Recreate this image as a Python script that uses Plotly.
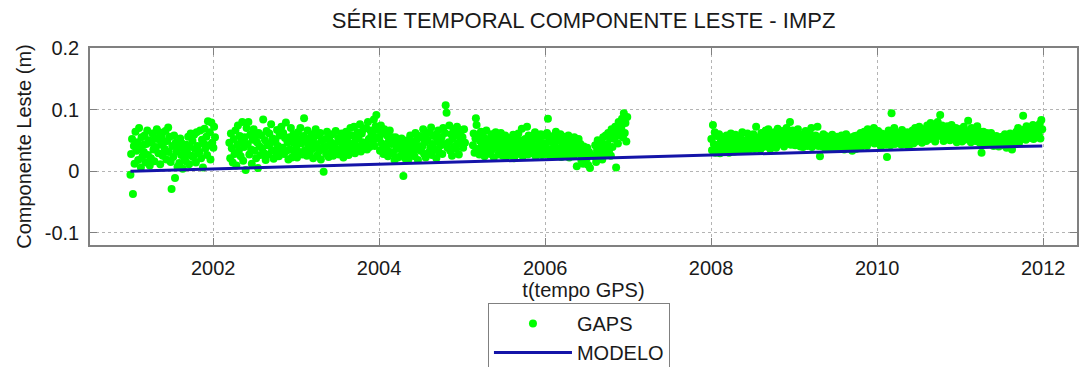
import plotly.graph_objects as go

# Componente leste da estação IMPZ, em milímetros: oito épocas por mês (None = sem solução)
leste_2001 = [
    [-6, 28, 52, -37, 41, 12, 64, 33], [47, 18, 70, 36, 6, 55, 24, 43],
    [31, 58, 14, 44, 66, 26, 50, 9], [21, 46, 61, 35, 16, 53, 39, 68],
    [52, 29, 63, 11, 43, 57, 25, 47], [36, 65, 19, 49, 71, 31, 56, 15],
    [-29, 41, 23, 58, -11, 46, 32, 7], [39, 13, 53, 26, 45, 4, 36, 21],
    [16, 43, 29, 56, 11, 39, 61, 25], [49, 23, 59, 36, 14, 63, 41, 29],
    [31, 66, 21, 51, 6, 45, 69, 37], [56, 26, 81, 42, 63, 19, 79, 46],
]
leste_2002 = [
    [38, 72, 55, None, None, None, None, None], [None] * 8,
    [None, None, None, 46, 21, 61, 37, 14], [52, 28, 66, 9, 43, 74, 33, 57],
    [24, 48, 80, 17, 39, 55, 2, 70], [44, 80, 27, 59, 35, 12, 51, 68],
    [33, 56, 21, 47, 5, 62, 40, 26], [58, 37, 84, 29, 50, 18, 65, 42],
    [27, 61, 45, 76, 34, 53, 20, 48], [49, 30, 67, 41, 24, 58, 36, 72],
    [38, 62, 28, 54, 79, 33, 46, 19], [55, 35, 70, 22, 47, 60, 31, 52],
]
leste_2003 = [
    [40, 22, 63, 51, 31, 70, 45, 27], [57, 86, 34, 48, 25, 66, 39, 53],
    [29, 46, 60, 36, 21, 55, 42, 68], [44, 26, 58, 33, 62, 19, 49, 38],
    [-1, 35, 52, 28, 64, 41, 23, 56], [47, 31, 60, 25, 44, 37, 65, 29],
    [36, 54, 27, 48, 33, 61, 41, 22], [50, 30, 64, 39, 56, 26, 45, 70],
    [34, 58, 43, 72, 29, 51, 38, 63], [55, 40, 76, 32, 61, 47, 68, 36],
    [44, 70, 35, 80, 52, 39, 66, 58], [62, 48, 84, 41, 73, 91, 55, 67],
]
leste_2004 = [
    [52, 33, 74, 45, 61, 28, 68, 40], [37, 58, 24, 49, 66, 31, 44, 55],
    [29, 47, 18, 55, 36, 42, 22, 51], [40, 25, 53, 34, -8, 46, 21, 38],
    [31, 50, 19, 43, 58, 27, 36, 48], [45, 24, 62, 35, 52, 18, 41, 57],
    [33, 55, 40, 68, 28, 47, 22, 60], [50, 30, 63, 38, 71, 26, 44, 57],
    [36, 59, 21, 48, 66, 31, 53, 42], [55, 28, 70, 44, 62, 107, 95, 38],
    [47, 74, 33, 60, 25, 52, 68, 40], [58, 36, 72, 45, 27, 63, 50, 66],
]
leste_2005 = [
    [55, 38, 68, 46, None, None, None, None], [None, None, None, None, 42, 61, 30, 53],
    [86, 75, 36, 58, 27, 49, 64, 41], [33, 55, 24, 47, 66, 38, 29, 52],
    [45, 28, 60, 35, 51, 22, 43, 63], [38, 56, 27, 48, 33, 62, 41, 25],
    [50, 31, 58, 23, 44, 36, 54, 29], [26, 47, 35, 59, 21, 42, 53, 31],
    [40, 61, 28, 50, 36, 69, 24, 45], [33, 52, 44, 72, 27, 58, 38, 49],
    [46, 29, 55, 35, 63, 24, 41, 52], [30, 49, 38, 60, 26, 45, 57, 35],
]
leste_2006 = [
    [45, 28, 62, 85, 36, 53, 24, 48], [33, 57, 41, 26, 64, 38, 50, 29],
    [52, 35, 60, 23, 44, 31, 56, 40], [27, 48, 36, 58, 22, 43, 33, 51],
    [39, 24, 55, 30, 46, 8, 37, 52], [28, 44, 18, 36, 12, 40, 25, 33],
    [20, 38, 10, 31, 5, 27, None, None], [None, 24, 42, 15, 33, 50, 21, 38],
    [30, 47, 19, 55, 36, 26, 58, 41], [44, 62, 33, 53, 25, 68, 39, 57],
    [52, 72, 6, 63, 45, 80, 58, 67], [70, 85, 55, 94, 62, 78, 48, 88],
]
leste_2008 = [
    [52, 34, 75, 44, 63, 30, 57, 40], [38, 60, 29, 49, 36, 55, 43, 31],
    [47, 33, 58, 40, 52, 30, 45, 61], [36, 54, 42, 32, 59, 45, 38, 50],
    [44, 34, 56, 40, 63, 37, 48, 33], [50, 38, 61, 43, 35, 57, 46, 40],
    [41, 60, 36, 52, 72, 44, 38, 55], [47, 35, 62, 50, 39, 58, 43, 66],
    [54, 40, 68, 47, 36, 60, 51, 44], [42, 63, 50, 38, 57, 69, 46, 55],
    [58, 44, 65, 52, 40, 61, 49, 70], [47, 62, 55, 80, 43, 59, 66, 51],
]
leste_2009 = [
    [55, 42, 63, 49, 68, 45, 58, 40], [46, 60, 39, 53, 44, 65, 50, 41],
    [57, 43, 62, 48, 70, 39, 52, 45], [44, 58, 50, 72, 41, 55, 24, 47],
    [52, 40, 60, 46, 38, 57, 43, 53], [41, 55, 47, 37, 59, 44, 50, 39],
    [48, 36, 56, 42, 52, 38, 45, 58], [40, 53, 35, 47, 60, 42, 51, 37],
    [46, 38, 55, 33, 49, 42, 57, 36], [43, 58, 37, 51, 46, 62, 40, 54],
    [50, 64, 44, 57, 41, 68, 53, 47], [60, 47, 66, 52, 70, 45, 58, 63],
]
leste_2010 = [
    [52, 65, 45, 58, 40, 61, 48, 55], [47, 60, 43, 23, 53, 66, 49, 42],
    [58, 94, 63, 50, 70, 44, 55, 61], [49, 62, 46, 57, 43, 67, 52, 59],
    [44, 56, 50, 63, 47, 40, 58, 53], [51, 66, 45, 59, 70, 48, 62, 55],
    [57, 72, 50, 64, 46, 68, 60, 53], [63, 49, 74, 58, 67, 52, 78, 61],
    [55, 70, 60, 48, 76, 62, 80, 57], [68, 91, 64, 74, 58, 49, 66, 71],
    [60, 73, 54, 67, 50, 63, 75, 57], [52, 65, 58, 70, 47, 61, 55, 68],
]
leste_2011 = [
    [55, 68, 48, 62, 72, 51, 64, 58], [60, 82, 52, 66, 47, 70, 57, 63],
    [54, 67, 49, 61, 73, 53, 65, 46], [59, 30, 52, 64, 45, 57, 50, 62],
    [48, 58, 44, 54, 62, 47, 52, 41], [50, 43, 57, 46, 53, 40, 49, 55],
    [45, 56, 42, 51, 60, 47, 38, 53], [52, 44, 61, 49, 35, 56, 47, 58],
    [55, 64, 50, 70, 46, 59, 66, 53], [62, 90, 57, 68, 51, 73, 60, 65],
    [58, 70, 54, 66, 75, 52, 63, 57], [64, 55, 72, 60, 77, 53, 83, 68],
]

anos_serie = [2001, 2002, 2003, 2004, 2005, 2006, 2008, 2009, 2010, 2011]
leste_por_ano = [leste_2001, leste_2002, leste_2003, leste_2004, leste_2005,
                 leste_2006, leste_2008, leste_2009, leste_2010, leste_2011]
dias_epoca = [2, 5, 9, 13, 17, 20, 24, 28]

# Modelo linear ajustado (m)
modelo_datas = ["2001-01-02", "2011-12-28"]
modelo_leste = [0.0, 0.041]

anos_ticks = [2002, 2004, 2006, 2008, 2010, 2012]
valores_y = [-0.1, 0, 0.1, 0.2]
rotulos_y = ["-0.1", "0", "0.1", "0.2"]

# Monta as épocas e converte mm -> m
datas, leste = [], []
for ano, meses in zip(anos_serie, leste_por_ano):
    for m, valores in enumerate(meses, start=1):
        for dia, v in zip(dias_epoca, valores):
            if v is None:
                continue
            datas.append(f"{ano}-{m:02d}-{dia:02d}")
            leste.append(v / 1000.0)

FONTE = "Liberation Sans, Arial, sans-serif"
COR_TEXTO = "#1a1a1a"
COR_EIXO = "#808080"

fig = go.Figure()
fig.add_trace(go.Scatter(
    x=datas, y=leste, mode="markers", name="GAPS",
    marker=dict(color="#00ff00", size=8, line=dict(width=0)),
))
fig.add_trace(go.Scatter(
    x=modelo_datas, y=modelo_leste, mode="lines", name="MODELO",
    line=dict(color="#1414a8", width=3),
))

fig.update_layout(
    width=1080, height=367,
    margin=dict(l=90, r=3, t=48, b=122, autoexpand=False),
    paper_bgcolor="white", plot_bgcolor="white",
    font=dict(family=FONTE, size=20, color=COR_TEXTO),
    title=dict(text="SÉRIE TEMPORAL COMPONENTE LESTE - IMPZ",
               font=dict(size=22, color=COR_TEXTO),
               x=0.5403, xanchor="center", y=1 - 20 / 367, yanchor="middle"),
    showlegend=True,
    legend=dict(x=0.4032, y=-0.2944, xanchor="left", yanchor="top",
                bgcolor="white", bordercolor=COR_EIXO, borderwidth=1,
                font=dict(size=20, color=COR_TEXTO), itemwidth=78),
)
fig.update_xaxes(
    type="date", range=["2000-07-08", "2012-05-29"],
    tickvals=[f"{a}-01-01" for a in anos_ticks], ticktext=[str(a) for a in anos_ticks],
    ticks="inside", ticklen=7, tickcolor=COR_EIXO, tickwidth=1,
    showline=True, linecolor=COR_EIXO, linewidth=1.5, mirror="ticks",
    showgrid=True, gridcolor="#b4b4b4", griddash="dot", gridwidth=1,
    tickfont=dict(size=20), ticklabelstandoff=4,
    title=dict(text="t(tempo GPS)", font=dict(size=20), standoff=3),
    zeroline=False, automargin=False,
)
fig.update_yaxes(
    range=[-0.12, 0.2], tickvals=valores_y, ticktext=rotulos_y,
    ticks="inside", ticklen=7, tickcolor=COR_EIXO, tickwidth=1,
    showline=True, linecolor=COR_EIXO, linewidth=1.5, mirror="ticks",
    showgrid=True, gridcolor="#b4b4b4", griddash="dot", gridwidth=1,
    tickfont=dict(size=20), ticklabelstandoff=5,
    title=dict(text="Componente Leste (m)", font=dict(size=20), standoff=8),
    zeroline=False, automargin=False,
)

fig.write_html("out.html")
